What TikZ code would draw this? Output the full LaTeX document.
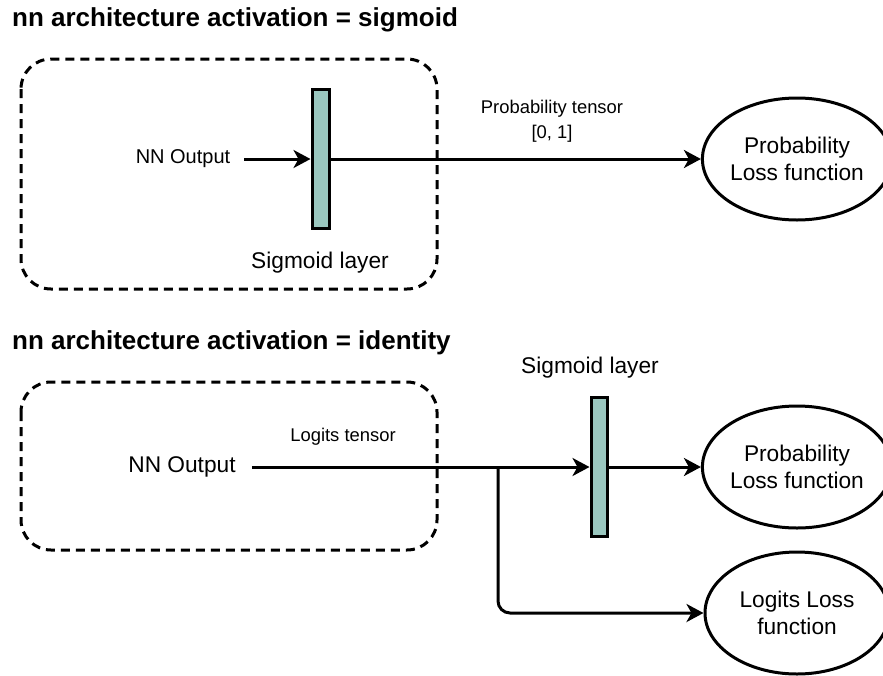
\documentclass[tikz,border=0pt]{standalone}
\usepackage{fontspec}
\setmainfont{Liberation Sans}
\usetikzlibrary{arrows.meta,shapes.geometric}
\definecolor{barfill}{HTML}{9AC7BF}
\begin{document}
\begin{tikzpicture}[x=1pt,y=-1pt,
  wire/.style={line width=3pt},
  arr/.style={wire,-{Stealth[length=17pt,width=18pt,inset=5pt]}},
  frame/.style={draw,line width=3pt,dash pattern=on 9pt off 6pt,rounded corners=30pt},
  bar/.style={draw,line width=3pt,fill=barfill,minimum width=17pt,minimum height=139pt,inner sep=0pt},
  loss/.style={draw,ellipse,line width=3pt,minimum width=184pt,minimum height=122pt,inner sep=0pt,align=center,font=\fontsize{22.7}{27}\selectfont},
  title/.style={anchor=west,font=\bfseries\fontsize{26}{31}\selectfont,inner sep=0pt},
  small/.style={font=\fontsize{18.4}{25}\selectfont,align=center,inner sep=0pt},
  mid/.style={font=\fontsize{22.7}{27}\selectfont,inner sep=0pt},
]
\useasboundingbox (0,0) rectangle (883,675);

% --- upper panel: sigmoid inside the network ---
\node[title] (t1) at (12,20) {nn architecture activation = sigmoid};
\draw[frame] (21,59) rectangle (437,289);
\node[bar] (s1) at (320.5,159) {};
\node[font=\fontsize{20}{24}\selectfont,inner sep=0pt] (o1) at (183,159) {NN Output};
\node[mid] (l1) at (320,263) {Sigmoid layer};
\node[loss] (p1) at (797,159) {Probability\\Loss function};
\node[small] (pt) at (552,121) {Probability tensor\\{[0, 1]}};
\draw[arr] ([xshift=14pt]o1.east) -- (o1.east -| s1.west);
\draw[arr] (s1.east) -- (p1.west);

% --- lower panel: identity output, sigmoid applied outside ---
\node[title] (t2) at (12,343) {nn architecture activation = identity};
\draw[frame] (21,382) rectangle (437,550);
\node[mid] (o2) at (182,467) {NN Output};
\node[small] (lt) at (343,437) {Logits tensor};
\node[bar,minimum width=16pt] (s2) at (599,467) {};
\node[mid] (l2) at (590,368) {Sigmoid layer};
\node[loss] (p2) at (797,467) {Probability\\Loss function};
\node[loss] (g2) at (797,613) {Logits Loss\\function};
\coordinate (br) at (498,467);
\draw[arr] ([xshift=16pt]o2.east) -- (o2.east -| s2.west);
\draw[arr] (s2.east) -- (p2.west);
\draw[arr,rounded corners=12pt] (br) |- (g2.west);
\end{tikzpicture}
\end{document}
